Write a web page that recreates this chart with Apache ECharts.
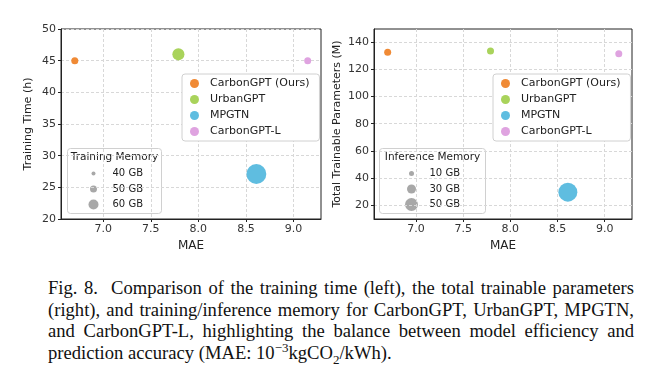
<!DOCTYPE html>
<html>
<head>
<meta charset="utf-8">
<script src="https://cdn.jsdelivr.net/npm/echarts@6/dist/echarts.min.js"></script>
<style>
  body { margin: 0; background: #fff; }
  #chart { position: absolute; left: 0; top: 0; width: 663px; height: 262px; }
  #caption {
    position: absolute; left: 48px; top: 277px; width: 586px;
    font-family: "Liberation Serif", "DejaVu Serif", serif;
    font-size: 18.6px; line-height: 21.5px; color: #111;
  }
  #caption div { text-align: justify; text-align-last: justify; white-space: nowrap; }
  #caption div.last { text-align-last: left; }
  #caption sup, #caption sub { font-size: 13px; line-height: 0; }
</style>
</head>
<body>
<div id="chart"></div>
<div id="caption">
  <div>Fig. 8.&nbsp; Comparison of the training time (left), the total trainable parameters</div>
  <div>(right), and training/inference memory for CarbonGPT, UrbanGPT, MPGTN,</div>
  <div>and CarbonGPT-L, highlighting the balance between model efficiency and</div>
  <div class="last">prediction accuracy (MAE: 10<sup>&minus;3</sup>kgCO<sub>2</sub>/kWh).</div>
</div>
<script>
// models and values
const models = ["CarbonGPT (Ours)", "UrbanGPT", "MPGTN", "CarbonGPT-L"];
const colors = ["#f08a35", "#a9d35b", "#5fbde0", "#dfa3e0"];
const mae = [6.70, 7.79, 8.61, 9.15];
const trainTime = [45, 46, 27.1, 45];
const trainMemory = [50, 67, 93, 50];
const params = [132.6, 133.6, 29.5, 131.6];
const inferMemory = [20, 20, 80, 20];
const trainLegend = [40, 50, 60];
const inferLegend = [10, 30, 50];
const maeTicks = [7.0, 7.5, 8.0, 8.5, 9.0];
const timeTicks = [20, 25, 30, 35, 40, 45, 50];
const paramTicks = [20, 40, 60, 80, 100, 120, 140];

// memory -> marker diameter
const trainSize = (m) => 4 + (m - 40) * 0.3;
const inferSize = (m) => 5 + (m - 10) * 0.2;

const FONT = "DejaVu Sans";
const chart = echarts.init(document.getElementById("chart"));

function xAxis(idx) {
  return {
    gridIndex: idx, type: "value", min: 6.555, max: 9.29,
    name: "MAE", nameLocation: "middle", nameGap: 19,
    nameTextStyle: { fontFamily: FONT, fontSize: 12, color: "#222" },
    axisLine: { show: true, onZero: false, lineStyle: { color: "#222", width: 1 } },
    axisTick: { show: true, length: 3, customValues: maeTicks, lineStyle: { color: "#222" } },
    axisLabel: {
      customValues: maeTicks, margin: 5,
      fontFamily: FONT, fontSize: 11, color: "#333",
      formatter: (v) => v.toFixed(1)
    },
    splitLine: { show: true, lineStyle: { color: "#d8d8d8", type: [3, 2] } }
  };
}

function yAxis(idx, min, max, ticks, name, gap) {
  return {
    gridIndex: idx, type: "value", min: min, max: max,
    name: name, nameLocation: "middle", nameGap: gap,
    nameTextStyle: { fontFamily: FONT, fontSize: 11, color: "#222" },
    axisLine: { show: true, onZero: false, lineStyle: { color: "#222", width: 1 } },
    axisTick: { show: true, length: 3, customValues: ticks, lineStyle: { color: "#222" } },
    axisLabel: { customValues: ticks, margin: 5, fontFamily: FONT, fontSize: 11, color: "#333" },
    splitLine: { show: true, lineStyle: { color: "#d8d8d8", type: [3, 2] } }
  };
}

const series = [];
models.forEach((name, i) => {
  series.push({
    name: name, type: "scatter", xAxisIndex: 0, yAxisIndex: 0,
    data: [[mae[i], trainTime[i], trainMemory[i]]],
    symbolSize: (d) => trainSize(d[2]),
    itemStyle: { color: colors[i], opacity: 1 }
  });
  series.push({
    name: name, type: "scatter", xAxisIndex: 1, yAxisIndex: 1,
    data: [[mae[i], params[i], inferMemory[i]]],
    symbolSize: (d) => inferSize(d[2]),
    itemStyle: { color: colors[i], opacity: 1 }
  });
});

function seriesLegend(left) {
  return {
    data: models, orient: "vertical", left: left, top: 74,
    icon: "circle", itemWidth: 9, itemHeight: 9, itemGap: 5,
    padding: [4, 10, 4, 8],
    backgroundColor: "#fff", borderColor: "#d0d0d0", borderWidth: 1, borderRadius: 3,
    selectedMode: false,
    textStyle: { fontFamily: FONT, fontSize: 11, color: "#222", lineHeight: 11, padding: [0, 0, 0, 6] }
  };
}

// size legend box built from the legend memory levels
function sizeLegend(x, y, w, h, title, levels, sizeFn, cx, tx) {
  const children = [{
    type: "rect", shape: { x: 0, y: 0, width: w, height: h, r: 3 },
    style: { fill: "#fff", stroke: "#d0d0d0", lineWidth: 1 }
  }, {
    type: "text", x: w / 2, y: 9,
    style: { text: title, fontFamily: FONT, fontSize: 10.5, fill: "#222", align: "center", verticalAlign: "middle" }
  }];
  levels.forEach((m, k) => {
    const yy = 25 + k * 15.5;
    children.push({
      type: "circle", shape: { cx: cx, cy: yy, r: sizeFn(m) / 2 },
      style: { fill: "#a8a8a8" }
    });
    children.push({
      type: "text", x: tx, y: yy,
      style: { text: m + " GB", fontFamily: FONT, fontSize: 10, fill: "#222", verticalAlign: "middle" }
    });
  });
  return { type: "group", left: x, top: y, z: 100, children: children };
}

chart.setOption({
  animation: false,
  grid: [
    { left: 61, top: 29, width: 260, height: 190, show: true, borderColor: "#222", borderWidth: 1, backgroundColor: "transparent" },
    { left: 374, top: 29, width: 258, height: 190, show: true, borderColor: "#222", borderWidth: 1, backgroundColor: "transparent" }
  ],
  xAxis: [xAxis(0), xAxis(1)],
  yAxis: [
    yAxis(0, 20, 50, timeTicks, "Training Time (h)", 27),
    yAxis(1, 9.7, 149.8, paramTicks, "Total Trainable Parameters (M)", 31)
  ],
  legend: [seriesLegend(182), seriesLegend(493)],
  graphic: [
    sizeLegend(67, 148, 94, 65, "Training Memory", trainLegend, trainSize, 26, 45),
    sizeLegend(379, 148, 106, 65, "Inference Memory", inferLegend, inferSize, 32, 50)
  ],
  series: series
});
</script>
</body>
</html>
